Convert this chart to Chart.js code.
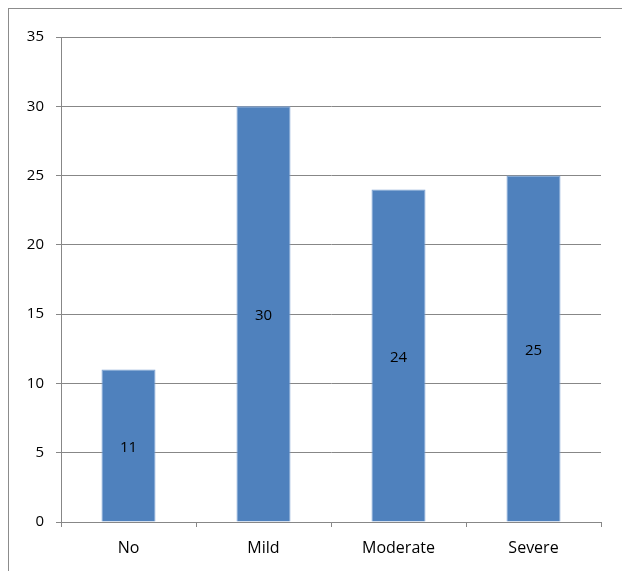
<!DOCTYPE html>
<html>
<head>
<meta charset="utf-8">
<script src="https://cdn.jsdelivr.net/npm/chart.js@4"></script>
<style>
  html, body { margin: 0; padding: 0; background: #fff; overflow: hidden; }
  #wrap { position: relative; width: 622px; height: 571px; }
  #frame { position: absolute; left: 8px; top: 8px; width: 700px; height: 700px; border: 1px solid #8c8c8c; box-sizing: border-box; }
  canvas { position: absolute; left: 0; top: 0; }
</style>
</head>
<body>
<div id="wrap">
  <div id="frame"></div>
  <canvas id="c" width="622" height="571"></canvas>
</div>
<script>
const categories = ['No', 'Mild', 'Moderate', 'Severe'];
const counts = [11, 30, 24, 25];
const yTicks = [0, 5, 10, 15, 20, 25, 30, 35];

const family = "'Open Sans', 'Liberation Sans', Arial, sans-serif";
const font = { family: family, size: 15 };
const catFont = { family: family, size: 16 };
const axisGray = '#878787';

// Writes each bar's value in the middle of the bar
const barValueLabels = {
  id: 'barValueLabels',
  afterDatasetsDraw(chart) {
    const ctx = chart.ctx;
    const meta = chart.getDatasetMeta(0);
    ctx.save();
    ctx.font = `${font.size}px ${font.family}`;
    ctx.fillStyle = '#000';
    ctx.textAlign = 'center';
    ctx.textBaseline = 'middle';
    meta.data.forEach((bar, i) => {
      const y = (bar.y + bar.base) / 2;
      ctx.fillText(String(counts[i]), bar.x, y + 2);
    });
    ctx.restore();
  }
};

new Chart(document.getElementById('c'), {
  type: 'bar',
  data: {
    labels: categories,
    datasets: [{
      data: counts,
      backgroundColor: '#4F81BD',
      borderColor: '#7FA3D4',
      borderWidth: 1,
      barPercentage: 0.4,
      categoryPercentage: 1.0
    }]
  },
  options: {
    responsive: false,
    animation: false,
    layout: { padding: { top: 37, right: 21, left: 0, bottom: 0 } },
    plugins: { legend: { display: false }, tooltip: { enabled: false } },
    scales: {
      x: {
        grid: { drawOnChartArea: false, drawTicks: true, tickLength: 5, color: axisGray, offset: true },
        border: { color: axisGray, width: 1 },
        ticks: { color: '#000', font: catFont, padding: 12 },
        afterFit(scale) { scale.height = 49; }
      },
      y: {
        min: 0, max: 35,
        afterBuildTicks(scale) { scale.ticks = yTicks.map(v => ({ value: v })); },
        grid: { color: axisGray, tickLength: 5, lineWidth: 1 },
        border: { color: axisGray, width: 1 },
        ticks: { color: '#000', font: font, padding: 12 },
        afterFit(scale) { scale.width = 61; }
      }
    }
  },
  plugins: [barValueLabels]
});
</script>
</body>
</html>
